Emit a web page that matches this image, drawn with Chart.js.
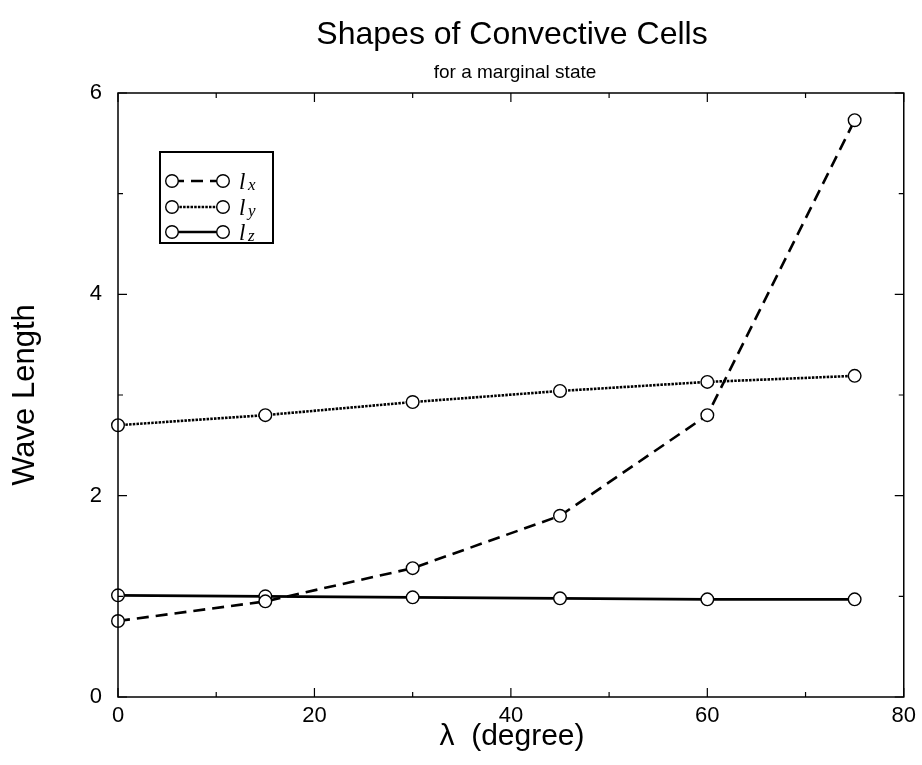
<!DOCTYPE html>
<html>
<head>
<meta charset="utf-8">
<script src="https://cdn.jsdelivr.net/npm/chart.js@4"></script>
<style>
  html, body { margin: 0; padding: 0; background: #fff; }
  #wrap { width: 922px; height: 765px; }
</style>
</head>
<body>
<div id="wrap"><canvas id="c" width="922" height="765"></canvas></div>
<script>
const titleText = "Shapes of Convective Cells";
const subtitleText = "for a marginal state";
const xTitle = "λ  (degree)";
const yTitle = "Wave Length";

const lambda = [0, 15, 30, 45, 60, 75];
const lx = [0.755, 0.95, 1.28, 1.80, 2.80, 5.73];
const ly = [2.70, 2.80, 2.93, 3.04, 3.13, 3.19];
const lz = [1.01, 1.00, 0.99, 0.98, 0.97, 0.97];

const seriesNames = ["x", "y", "z"];
const seriesDash = [[12, 7], [2.5, 1.2], []];

const xMajor = [0, 20, 40, 60, 80];
const xMinor = [10, 30, 50, 70];
const yMajor = [0, 2, 4, 6];
const yMinor = [1, 3, 5];

function pts(arr) { return lambda.map((x, i) => ({ x: x, y: arr[i] })); }

function ds(arr, i) {
  return {
    label: "l" + seriesNames[i],
    data: pts(arr),
    borderColor: "#000",
    borderWidth: 2.6,
    borderDash: seriesDash[i],
    pointRadius: 6.3,
    pointBorderWidth: 1.4,
    pointBackgroundColor: "#fff",
    pointBorderColor: "#000",
    tension: 0,
    clip: false,
    fill: false
  };
}

const decor = {
  id: "decor",
  beforeDraw(chart) {
    const ctx = chart.ctx;
    ctx.save();
    ctx.fillStyle = "#fff";
    ctx.fillRect(0, 0, chart.width, chart.height);
    ctx.restore();
  },
  afterDatasetsDraw(chart) {
    const ctx = chart.ctx;
    const a = chart.chartArea;
    const xs = chart.scales.x, ys = chart.scales.y;
    ctx.save();
    ctx.strokeStyle = "#000";
    ctx.lineWidth = 1.5;
    ctx.setLineDash([]);
    ctx.strokeRect(a.left, a.top, a.right - a.left, a.bottom - a.top);
    ctx.beginPath();
    const tick = (vals, len) => {
      vals.forEach(v => {
        const px = xs.getPixelForValue(v);
        ctx.moveTo(px, a.bottom); ctx.lineTo(px, a.bottom - len);
        ctx.moveTo(px, a.top); ctx.lineTo(px, a.top + len);
      });
    };
    const ticky = (vals, len) => {
      vals.forEach(v => {
        const py = ys.getPixelForValue(v);
        ctx.moveTo(a.left, py); ctx.lineTo(a.left + len, py);
        ctx.moveTo(a.right, py); ctx.lineTo(a.right - len, py);
      });
    };
    tick(xMajor, 9); tick(xMinor, 5);
    ticky(yMajor, 9); ticky(yMinor, 5);
    ctx.lineWidth = 1.2;
    ctx.stroke();

    // titles
    ctx.fillStyle = "#000";
    ctx.textAlign = "center";
    ctx.textBaseline = "middle";
    ctx.font = "32px 'Liberation Sans', Arial, sans-serif";
    ctx.fillText(titleText, 512, 35);
    ctx.font = "19px 'Liberation Sans', Arial, sans-serif";
    ctx.fillText(subtitleText, 515, 73);
    ctx.font = "30px 'Liberation Sans', Arial, sans-serif";
    ctx.fillText(xTitle, 512, 737);
    ctx.save();
    ctx.translate(25, 395);
    ctx.rotate(-Math.PI / 2);
    ctx.font = "31px 'Liberation Sans', Arial, sans-serif";
    ctx.fillText(yTitle, 0, 0);
    ctx.restore();

    // legend
    const bx = 160, by = 152, bw = 113, bh = 91;
    ctx.lineWidth = 2;
    ctx.strokeRect(bx, by, bw, bh);
    const rows = [181, 207, 232];
    chart.data.datasets.forEach((d, i) => {
      const y = rows[i];
      ctx.beginPath();
      ctx.setLineDash(d.borderDash);
      ctx.lineWidth = 2.6;
      ctx.moveTo(172, y); ctx.lineTo(223, y);
      ctx.stroke();
      ctx.setLineDash([]);
      ctx.lineWidth = 1.4;
      [172, 223].forEach(cx => {
        ctx.beginPath();
        ctx.arc(cx, y, 6.3, 0, Math.PI * 2);
        ctx.fillStyle = "#fff";
        ctx.fill();
        ctx.stroke();
      });
      ctx.fillStyle = "#000";
      ctx.textAlign = "left";
      ctx.textBaseline = "alphabetic";
      ctx.font = "italic 23px 'Liberation Serif', 'DejaVu Serif', serif";
      ctx.fillText("l", 239, y + 8);
      ctx.font = "italic 17px 'Liberation Serif', 'DejaVu Serif', serif";
      ctx.fillText(seriesNames[i], 248, y + 9);
    });
    ctx.restore();
  }
};

new Chart(document.getElementById("c"), {
  type: "line",
  data: { datasets: [ds(lx, 0), ds(ly, 1), ds(lz, 2)] },
  options: {
    responsive: false,
    animation: false,
    layout: { padding: { top: 93, right: 17, left: 0, bottom: 0 } },
    plugins: { legend: { display: false }, title: { display: false }, tooltip: { enabled: false } },
    scales: {
      x: {
        type: "linear", min: 0, max: 80,
        afterFit(s) { s.height = 68; },
        ticks: { stepSize: 20, color: "#000", padding: 6, maxRotation: 0,
                 font: { family: "'Liberation Sans', Arial, sans-serif", size: 22 } },
        grid: { display: false, drawTicks: false },
        border: { display: false }
      },
      y: {
        type: "linear", min: 0, max: 6,
        afterFit(s) { s.width = 118; },
        ticks: { stepSize: 2, color: "#000", padding: 16,
                 font: { family: "'Liberation Sans', Arial, sans-serif", size: 22 } },
        grid: { display: false, drawTicks: false },
        border: { display: false }
      }
    }
  },
  plugins: [decor]
});
</script>
</body>
</html>
